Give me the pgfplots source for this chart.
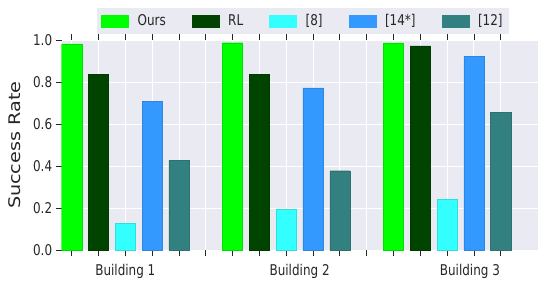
\documentclass[border=0pt]{standalone}
\usepackage{pgfplots}
\pgfplotsset{compat=1.18}
\usepackage{fontspec}
\setmainfont{DejaVu Sans}[FakeStretch=0.81]
\newfontfamily\ylabfont{DejaVu Sans}[FakeStretch=1.2]
\definecolor{bg}{HTML}{EAEAF2}
\definecolor{cOurs}{HTML}{00FF00}
\definecolor{cRL}{HTML}{004400}
\definecolor{cEight}{HTML}{33FFFF}
\definecolor{cFourteen}{HTML}{3399FF}
\definecolor{cTwelve}{HTML}{338080}
\definecolor{txt}{HTML}{262626}
\pgfplotsset{mybar/.style={ybar, bar width=0.75, fill=#1, draw=#1!88!black, line width=0.4pt,
  legend image code/.code={\fill[#1] (0pt,-6pt) rectangle (27pt,6pt);}}}
\begin{document}
\begin{tikzpicture}
\begin{axis}[
  at={(0pt,0pt)}, anchor=south west,
  width=476.3pt, height=210.5pt, scale only axis,
  xmin=-0.373, xmax=17.39, ymin=0, ymax=1,
  axis background/.style={fill=bg},
  axis line style={draw=none},
  grid=major, major grid style={white, line width=0.9pt},
  xtick={0,...,16}, xticklabels={},
  ytick={0,0.2,0.4,0.6,0.8,1.0},
  tick align=outside, xtick pos=both, ytick pos=left,
  major tick length=6pt,
  tick style={txt, line width=0.8pt},
  tick label style={font=\fontsize{14.8}{17}\selectfont, text=txt},
  /pgf/number format/assume math mode=true,
  yticklabel style={/pgf/number format/.cd, fixed, fixed zerofill, precision=1},
  extra x ticks={2,8.5,14.85},
  extra x tick labels={Building 1,Building 2,Building 3},
  extra x tick style={grid=none, major tick length=0pt, tick label style={yshift=-10pt}},
  ylabel={Success Rate},
  ylabel style={font=\ylabfont\fontsize{16}{19}\selectfont, text=txt, at={(axis description cs:-0.0987,0.5)}, anchor=center},
  legend style={at={(axis description cs:0.0735,1.026)}, anchor=south west, draw=none, fill=bg,
    font=\fontsize{14.8}{17}\selectfont, text=txt, inner xsep=4.3pt, inner ysep=5pt,
    /tikz/every odd column/.append style={column sep=7pt},
    /tikz/every even column/.append style={column sep=24pt}},
  legend columns=5,
]
\addplot[mybar=cOurs] coordinates {(0,0.981) (6,0.987) (12,0.986)};
\addlegendentry{Ours}
\addplot[mybar=cRL] coordinates {(1,0.837) (7,0.837) (13,0.972)};
\addlegendentry{RL}
\addplot[mybar=cEight] coordinates {(2,0.129) (8,0.194) (14,0.243)};
\addlegendentry{[8]}
\addplot[mybar=cFourteen] coordinates {(3,0.708) (9,0.772) (15,0.921)};
\addlegendentry{[14*]}
\addplot[mybar=cTwelve] coordinates {(4,0.428) (10,0.379) (16,0.657)};
\addlegendentry{[12]}
\end{axis}
\pgfresetboundingbox
\path[use as bounding box] (-61.7pt,-40.5pt) rectangle (476.3pt,250.5pt);
\end{tikzpicture}
\end{document}
